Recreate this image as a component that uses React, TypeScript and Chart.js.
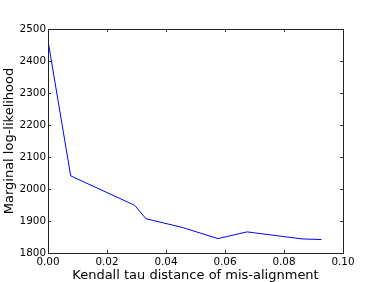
import React, { useEffect, useRef } from "react";
import { Chart, registerables } from "chart.js";

Chart.register(...registerables);

const tauDistance = [0, 0.0077, 0.0294, 0.0332, 0.0455, 0.0576, 0.0675, 0.0861, 0.0927];
const logLikelihood = [2463, 2041, 1949, 1907, 1880, 1845, 1866, 1844, 1842];
const xTickValues = [0, 0.02, 0.04, 0.06, 0.08, 0.1];
const yTickValues = [1800, 1900, 2000, 2100, 2200, 2300, 2400, 2500];

const FONT = "'DejaVu Sans', 'Bitstream Vera Sans', sans-serif";

const boxPlugin = {
  id: "mplBox",
  afterDraw(chart: any) {
    const { ctx, chartArea } = chart;
    const { left, right, top, bottom } = chartArea;
    const xs = chart.scales.x;
    const ys = chart.scales.y;
    const tl = 3;
    ctx.save();
    ctx.strokeStyle = "#333333";
    ctx.lineWidth = 1;
    ctx.beginPath();
    for (const v of xTickValues) {
      const px = Math.round(xs.getPixelForValue(v)) + 0.5;
      ctx.moveTo(px, bottom);
      ctx.lineTo(px, bottom - tl);
      ctx.moveTo(px, top);
      ctx.lineTo(px, top + tl);
    }
    for (const v of yTickValues) {
      const py = Math.round(ys.getPixelForValue(v)) + 0.5;
      ctx.moveTo(left, py);
      ctx.lineTo(left + tl, py);
      ctx.moveTo(right, py);
      ctx.lineTo(right - tl, py);
    }
    ctx.stroke();
    ctx.strokeStyle = "#222222";
    ctx.strokeRect(Math.round(left) + 0.5, Math.round(top) + 0.5, Math.round(right - left), Math.round(bottom - top));
    ctx.restore();
  },
};

export default function App() {
  const ref = useRef<HTMLCanvasElement>(null);
  useEffect(() => {
    document.body.style.margin = "0";
    const chart = new Chart(ref.current!, {
      type: "line",
      data: {
        datasets: [
          {
            data: tauDistance.map((x, i) => ({ x, y: logLikelihood[i] })),
            borderColor: "#0000ff",
            borderWidth: 1,
            pointRadius: 0,
            tension: 0,
            fill: false,
          },
        ],
      },
      options: {
        animation: false,
        responsive: false,
        layout: { padding: { top: 29, right: 38, left: 0, bottom: 0 } },
        plugins: { legend: { display: false }, tooltip: { enabled: false } },
        scales: {
          x: {
            type: "linear",
            min: 0,
            max: 0.1,
            afterBuildTicks(scale: any) {
              scale.ticks = xTickValues.map((value) => ({ value }));
            },
            afterFit(scale: any) {
              scale.height = 29;
            },
            grid: { display: false, drawTicks: false },
            border: { display: false },
            ticks: {
              color: "#000",
              padding: 3,
              font: { family: FONT, size: 10.4 },
              maxRotation: 0,
              callback: (v: any) => Number(v).toFixed(2),
            },
            title: {
              display: true,
              text: "Kendall tau distance of mis-alignment",
              color: "#000",
              font: { family: FONT, size: 13 },
              padding: { top: 0, bottom: -1 },
            },
          },
          y: {
            type: "linear",
            min: 1800,
            max: 2500,
            afterBuildTicks(scale: any) {
              scale.ticks = yTickValues.map((value) => ({ value }));
            },
            afterFit(scale: any) {
              scale.width = 48;
            },
            grid: { display: false, drawTicks: false },
            border: { display: false },
            ticks: {
              color: "#000",
              padding: 2,
              font: { family: FONT, size: 10.4 },
              callback: (v: any) => String(v),
            },
            title: {
              display: true,
              text: "Marginal log-likelihood",
              color: "#000",
              font: { family: FONT, size: 13 },
              padding: { top: 2, bottom: 0 },
            },
          },
        },
      },
      plugins: [boxPlugin],
    });
    return () => chart.destroy();
  }, []);
  return (
    <div style={{ width: 381, height: 282, background: "#fff" }}>
      <canvas ref={ref} width={381} height={282} style={{ display: "block" }} />
    </div>
  );
}
